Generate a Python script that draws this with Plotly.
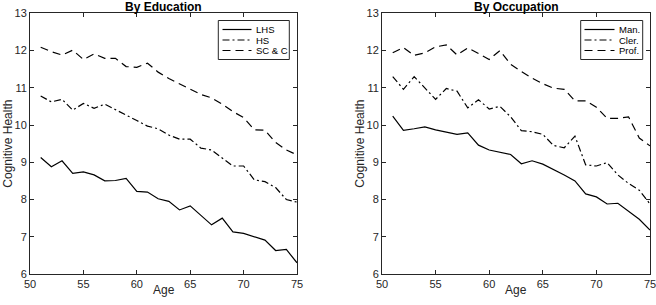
import plotly.graph_objects as go

ages = list(range(51, 76))

edu_lhs = [9.13, 8.88, 9.04, 8.70, 8.74, 8.66, 8.50, 8.51, 8.57, 8.22, 8.20, 8.02, 7.95,
           7.72, 7.83, 7.58, 7.32, 7.50, 7.13, 7.09, 7.01, 6.91, 6.63, 6.66, 6.30]
edu_hs = [10.78, 10.62, 10.69, 10.40, 10.58, 10.45, 10.56, 10.42, 10.27, 10.12, 9.97, 9.90, 9.73,
          9.62, 9.62, 9.38, 9.33, 9.12, 8.90, 8.90, 8.53, 8.48, 8.32, 8.00, 7.93]
edu_scc = [12.09, 11.97, 11.88, 12.01, 11.76, 11.91, 11.79, 11.79, 11.57, 11.55, 11.66, 11.42, 11.25,
           11.10, 10.96, 10.82, 10.73, 10.56, 10.36, 10.20, 9.87, 9.86, 9.53, 9.33, 9.20]

occ_man = [10.24, 9.86, 9.90, 9.95, 9.87, 9.80, 9.75, 9.79, 9.46, 9.33, 9.26, 9.21, 8.96,
           9.04, 8.95, 8.81, 8.66, 8.50, 8.15, 8.07, 7.88, 7.90, 7.68, 7.47, 7.18]
occ_cler = [11.30, 10.96, 11.30, 11.00, 10.69, 10.98, 10.91, 10.46, 10.68, 10.43, 10.50, 10.22, 9.85,
            9.82, 9.75, 9.45, 9.39, 9.70, 8.93, 8.90, 8.99, 8.66, 8.43, 8.25, 7.88]
occ_prof = [11.94, 12.08, 11.87, 11.94, 12.10, 12.15, 11.88, 12.07, 11.92, 11.76, 12.00, 11.63, 11.44,
            11.26, 11.11, 10.99, 10.96, 10.65, 10.65, 10.48, 10.18, 10.18, 10.22, 9.65, 9.44]

edu_names = ["LHS", "HS", "SC & C"]
occ_names = ["Man.", "Cler.", "Prof."]
titles = ["By Education", "By Occupation"]
x_ticks = [50, 55, 60, 65, 70, 75]
y_ticks = [6, 7, 8, 9, 10, 11, 12, 13]

dashes = ["solid", "7px,3px,2px,3px", "8px,5px"]
FONT = "Liberation Sans, Arial, sans-serif"
AXC = "#262626"
LW = 1.2

fig = go.Figure()
for name, vals, d in zip(edu_names, [edu_lhs, edu_hs, edu_scc], dashes):
    fig.add_trace(go.Scatter(x=ages, y=vals, mode="lines", name=name,
                             line=dict(color="black", width=LW, dash=d),
                             xaxis="x", yaxis="y", showlegend=False))
for name, vals, d in zip(occ_names, [occ_man, occ_cler, occ_prof], dashes):
    fig.add_trace(go.Scatter(x=ages, y=vals, mode="lines", name=name,
                             line=dict(color="black", width=LW, dash=d),
                             xaxis="x2", yaxis="y2", showlegend=False))

W, H = 656, 305
L1, R1 = 30, 297
L2, R2 = 382, 650
TOP, BOT = 13.3, 274

def ax_common():
    return dict(showline=True, linecolor=AXC, linewidth=1, mirror="ticks",
                ticks="inside", ticklen=4, tickcolor=AXC, showgrid=False, zeroline=False,
                automargin=False, ticklabeloverflow="allow",
                tickfont=dict(family=FONT, size=11, color=AXC))

xa = ax_common(); xa.update(range=[50, 75], tickvals=x_ticks, domain=[L1 / W, R1 / W], anchor="y")
ya = ax_common(); ya.update(range=[6, 13], tickvals=y_ticks, domain=[(H - BOT) / H, (H - TOP) / H], anchor="x")
xa2 = ax_common(); xa2.update(range=[50, 75], tickvals=x_ticks, domain=[L2 / W, R2 / W], anchor="y2")
ya2 = ax_common(); ya2.update(range=[6, 13], tickvals=y_ticks, domain=[(H - BOT) / H, (H - TOP) / H], anchor="x2")

def px(x):
    return x / W

def py(y):
    return (H - y) / H

annotations = []
shapes = []
for i, (l, r) in enumerate([(L1, R1), (L2, R2)]):
    cx = (l + r) / 2 / W
    annotations.append(dict(text="<b>" + titles[i] + "</b>", x=cx, y=py(7), xref="paper", yref="paper",
                            showarrow=False, xanchor="center", yanchor="middle",
                            font=dict(family=FONT, size=12, color="black")))
    annotations.append(dict(text="Age", x=cx, y=py(290), xref="paper", yref="paper",
                            showarrow=False, xanchor="center", yanchor="middle",
                            font=dict(family=FONT, size=12, color=AXC)))
    annotations.append(dict(text="Cognitive Health", x=px(l - 22), y=py((TOP + BOT) / 2),
                            xref="paper", yref="paper", textangle=-90,
                            showarrow=False, xanchor="center", yanchor="middle",
                            font=dict(family=FONT, size=12, color=AXC)))

# legends (boxes with line samples and labels)
legend_specs = [
    (edu_names, 218.3, 289.3, 222.5, 251.5, 254),
    (occ_names, 580.7, 642.7, 584.5, 614.5, 617),
]
row_y = [29.5, 40, 50.5]
for names, bx0, bx1, lx0, lx1, tx in legend_specs:
    shapes.append(dict(type="rect", xref="paper", yref="paper",
                       x0=px(bx0), x1=px(bx1), y0=py(59.5), y1=py(20.5),
                       line=dict(color=AXC, width=1), fillcolor="white", layer="above"))
    for name, d, ry in zip(names, dashes, row_y):
        shapes.append(dict(type="line", xref="paper", yref="paper",
                           x0=px(lx0), x1=px(lx1), y0=py(ry), y1=py(ry),
                           line=dict(color="black", width=LW, dash=d), layer="above"))
        annotations.append(dict(text=name, x=px(tx), y=py(ry), xref="paper", yref="paper",
                                showarrow=False, xanchor="left", yanchor="middle",
                                font=dict(family=FONT, size=9.5, color="black")))

fig.update_layout(
    width=W, height=H, margin=dict(l=0, r=0, t=0, b=0, autoexpand=False),
    paper_bgcolor="white", plot_bgcolor="white",
    xaxis=xa, yaxis=ya, xaxis2=xa2, yaxis2=ya2,
    annotations=annotations, shapes=shapes,
    showlegend=False,
)

fig.write_html("out.html", config={"displayModeBar": False},
               post_script="document.body.style.margin='0';document.body.style.overflow='hidden';")
